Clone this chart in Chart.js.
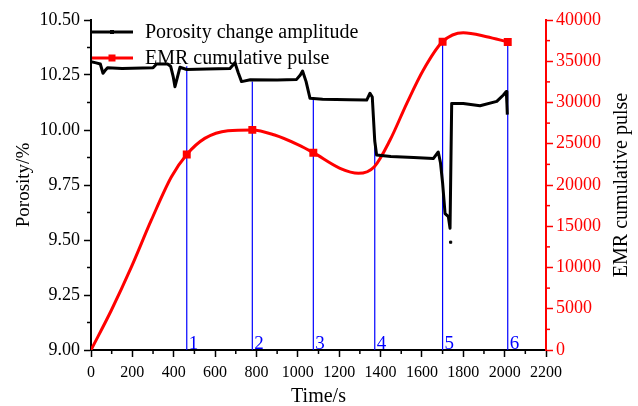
<!DOCTYPE html>
<html lang="en">
<head>
  <meta charset="UTF-8" />
  <title>Porosity and EMR</title>
  <script src="https://cdn.jsdelivr.net/npm/chart.js"></script>
  <style>
    * { margin: 0; padding: 0; box-sizing: border-box; }
    body { background: white; }
    #wrap { width: 638px; height: 406px; }
  </style>
</head>
<body>
  <div id="wrap"><canvas id="chart" width="638" height="406"></canvas></div>

  <script>
    // porosity change amplitude (left axis)
    const porTime = [0, 25, 45, 58, 68, 80, 150, 250, 300, 317, 370, 385, 398, 406, 418, 430, 463, 560, 672, 696,
      712, 728, 770, 900, 994, 1012, 1023, 1040, 1059, 1120, 1250, 1333, 1349, 1360, 1372, 1381, 1450, 1560, 1655, 1679,
      1690, 1700, 1712, 1728, 1736, 1744, 1800, 1881, 1962, 1994, 2008, 2011, 2013];
    const porVal = [10.31, 10.305, 10.30, 10.258, 10.27, 10.283, 10.28, 10.282, 10.283, 10.30, 10.30, 10.29, 10.24, 10.197, 10.24, 10.285, 10.275, 10.277, 10.28, 10.306,
      10.26, 10.22, 10.228, 10.227, 10.23, 10.25, 10.268, 10.22, 10.144, 10.14, 10.138, 10.136, 10.167, 10.15, 9.95, 9.886, 9.88, 9.875, 9.87, 9.90,
      9.85, 9.76, 9.62, 9.606, 9.553, 10.121, 10.12, 10.11, 10.13, 10.159, 10.175, 10.12, 10.07];
    const dotTime = [1739];
    const dotVal = [9.49];

    // EMR cumulative pulse (right axis)
    const emrTime = [0, 99, 196, 292, 389, 463, 550, 662, 780, 888, 1000, 1075, 1204, 1293, 1370, 1446, 1527, 1607, 1700, 1800, 1913, 2015];
    const emrPulse = [0, 4850, 10100, 15760, 21000, 23700, 25650, 26590, 26680, 26060, 24900, 23920, 22020, 21410, 22220, 25450, 29900, 33940, 37370, 38460, 37980, 37330];

    // loading stages
    const stageTime = [463, 780, 1075, 1372, 1700, 2015];
    const stageTop = [10.29, 10.22, 10.14, 9.95, 10.40, 10.40];
    const stageLabels = ['1', '2', '3', '4', '5', '6'];

    const serif = "'Liberation Serif', 'Times New Roman', serif";
    Chart.defaults.font.family = serif;

    const datasets = [];
    stageTime.forEach((t, i) => {
      datasets.push({
        label: 'stage ' + stageLabels[i],
        data: [{ x: t, y: 9 }, { x: t, y: stageTop[i] }],
        borderColor: '#0000ff',
        borderWidth: 1.2,
        pointRadius: 0,
        yAxisID: 'y',
        order: 5
      });
    });
    datasets.push({
      label: 'EMR cumulative pulse',
      data: emrTime.map((t, i) => ({ x: t, y: emrPulse[i] })),
      borderColor: '#ff0000',
      backgroundColor: '#ff0000',
      borderWidth: 3,
      cubicInterpolationMode: 'monotone',
      pointStyle: 'rect',
      pointRadius: ctx => stageTime.includes(emrTime[ctx.dataIndex]) ? 3.5 : 0,
      yAxisID: 'y1',
      order: 2,
      inLegend: true
    });
    datasets.push({
      label: 'Porosity change amplitude',
      data: porTime.map((t, i) => ({ x: t, y: porVal[i] })),
      borderColor: '#000000',
      backgroundColor: '#000000',
      borderWidth: 3,
      borderJoinStyle: 'round',
      tension: 0,
      pointRadius: 0,
      yAxisID: 'y',
      order: 1,
      inLegend: true
    });
    datasets.push({
      label: 'dot',
      type: 'scatter',
      data: dotTime.map((t, i) => ({ x: t, y: dotVal[i] })),
      backgroundColor: '#000000',
      borderColor: '#000000',
      pointStyle: 'rect',
      pointRadius: 1.5,
      yAxisID: 'y',
      order: 1
    });

    // minor ticks, stage numbers, right title and the line+marker legend
    const extras = {
      id: 'extras',
      afterDraw(chart) {
        const c = chart.ctx;
        const area = chart.chartArea;
        const sx = chart.scales.x, sy = chart.scales.y, sy1 = chart.scales.y1;
        c.save();
        c.lineWidth = 1.5;

        c.strokeStyle = '#000';
        for (let v = 100; v < 2200; v += 200) {
          const px = sx.getPixelForValue(v);
          c.beginPath(); c.moveTo(px, area.bottom); c.lineTo(px, area.bottom + 4); c.stroke();
        }
        for (let v = 9.125; v < 10.5; v += 0.25) {
          const py = sy.getPixelForValue(v);
          c.beginPath(); c.moveTo(area.left, py); c.lineTo(area.left - 4, py); c.stroke();
        }
        c.strokeStyle = '#ff0000';
        for (let v = 2500; v < 40000; v += 5000) {
          const py = sy1.getPixelForValue(v);
          c.beginPath(); c.moveTo(area.right, py); c.lineTo(area.right + 4, py); c.stroke();
        }

        c.fillStyle = '#0000ff';
        c.font = '19px ' + serif;
        c.textBaseline = 'alphabetic';
        stageTime.forEach((t, i) => {
          c.fillText(stageLabels[i], sx.getPixelForValue(t) + 2, area.bottom - 1);
        });

        // right axis title, read bottom to top
        c.save();
        c.translate(area.right + 76, (area.top + area.bottom) / 2);
        c.rotate(-Math.PI / 2);
        c.fillStyle = '#000';
        c.font = '20px ' + serif;
        c.textAlign = 'center';
        c.textBaseline = 'middle';
        c.fillText('EMR cumulative pulse', 0, 0);
        c.restore();

        const items = chart.data.datasets.filter(d => d.inLegend).reverse();
        c.font = '20px ' + serif;
        c.textBaseline = 'middle';
        items.forEach((d, i) => {
          const y = area.top + 12 + i * 26;
          c.strokeStyle = d.borderColor;
          c.lineWidth = 3;
          c.beginPath(); c.moveTo(area.left + 1, y); c.lineTo(area.left + 42, y); c.stroke();
          c.fillStyle = d.borderColor;
          const m = i === 0 ? 2 : 3.5;
          c.fillRect(area.left + 21 - m, y - m, m * 2, m * 2);
          c.fillStyle = '#000';
          c.fillText(d.label, area.left + 54, y + 1);
        });
        c.restore();
      }
    };

    new Chart(document.getElementById('chart'), {
      type: 'line',
      data: { datasets },
      plugins: [extras],
      options: {
        responsive: false,
        devicePixelRatio: 1,
        animation: false,
        layout: { padding: { top: 20, left: 0, right: 0, bottom: 0 } },
        plugins: { legend: { display: false }, tooltip: { enabled: false } },
        scales: {
          x: {
            type: 'linear',
            min: 0,
            max: 2200,
            afterFit: s => { s.height = 56; },
            ticks: { stepSize: 200, color: '#000', font: { family: serif, size: 16 }, padding: 6, maxRotation: 0, callback: v => String(v) },
            grid: { drawOnChartArea: false, drawTicks: true, tickLength: 7, tickColor: '#000', tickWidth: 1.5 },
            border: { color: '#000', width: 2 },
            title: { display: true, text: 'Time/s', color: '#000', font: { family: serif, size: 20 }, padding: { top: 0, bottom: -3 } }
          },
          y: {
            position: 'left',
            min: 9,
            max: 10.5,
            afterFit: s => { s.width = 91; },
            ticks: { stepSize: 0.25, color: '#000', font: { family: serif, size: 18 }, padding: 4, callback: v => v.toFixed(2) },
            grid: { drawOnChartArea: false, drawTicks: true, tickLength: 7, tickColor: '#000', tickWidth: 1.5 },
            border: { color: '#000', width: 2 },
            title: { display: true, text: 'Porosity/%', color: '#000', font: { family: serif, size: 19 }, padding: { top: 13, bottom: 0 } }
          },
          y1: {
            position: 'right',
            min: 0,
            max: 40000,
            afterFit: s => { s.width = 92; },
            ticks: { stepSize: 5000, color: '#ff0000', font: { family: serif, size: 18 }, padding: 3, callback: v => String(v) },
            grid: { drawOnChartArea: false, drawTicks: true, tickLength: 7, tickColor: '#ff0000', tickWidth: 1.5 },
            border: { color: '#ff0000', width: 2 }
          }
        }
      }
    });
  </script>
</body>
</html>
